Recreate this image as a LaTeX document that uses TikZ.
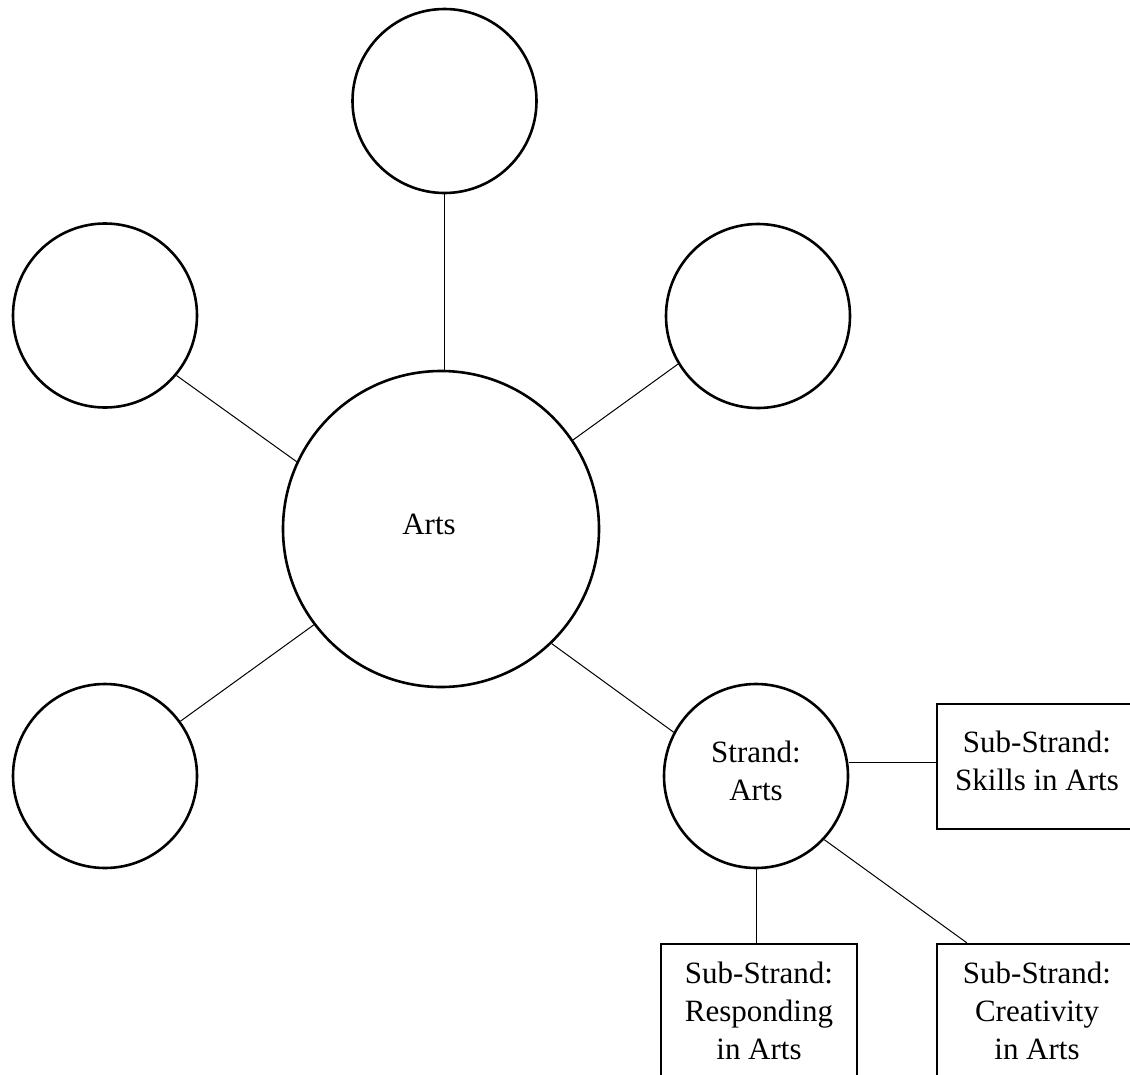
\documentclass[tikz,border=0pt]{standalone}
\usepackage{fontspec}
\setmainfont{Liberation Serif}
\begin{document}
\begin{tikzpicture}[x=1pt,y=-1pt,
  bubble/.style={draw=black, line width=2.6pt, circle, inner sep=0pt, font=\fontsize{31}{38}\selectfont, align=center},
  subbox/.style={draw=black, line width=2.5pt, rectangle, inner sep=0pt, font=\fontsize{31}{38}\selectfont, align=center},
  conn/.style={draw=black, line width=1pt}]
\clip (0,0) rectangle (1130,1074);
\fill[white] (0,0) rectangle (1130,1074);
% circles
\node[bubble, minimum size=184pt] (top) at (444.5,101) {};
\node[bubble, minimum size=184pt] (left) at (105,315.5) {};
\node[bubble, minimum size=184pt] (right) at (758,316) {};
\node[bubble, minimum size=184pt] (botleft) at (105,776) {};
\node[bubble, minimum size=316pt,
  label={[name=artstext, font=\fontsize{31}{38}\selectfont, xshift=-12pt, yshift=4.5pt]center:Arts}] (central) at (441,529) {};
\node[bubble, minimum size=184pt, text height=60pt, text depth=12pt] (strand) at (756,776) {Strand:\\Arts};
% boxes
\node[subbox, minimum width=200pt, minimum height=125pt, text height=60pt, text depth=13pt] (skills) at (1037,766.5) {Sub-Strand:\\Skills in Arts};
\node[subbox, minimum width=196pt, minimum height=170pt, text height=110pt, text depth=50pt] (responding) at (759,1029) {Sub-Strand:\\Responding\\in Arts};
\node[subbox, minimum width=200pt, minimum height=170pt, text height=110pt, text depth=50pt] (creativity) at (1037,1029) {Sub-Strand:\\Creativity\\in Arts};
% connectors
\draw[conn] (top.south) -- (top.south |- central.north);
\draw[conn] (central.155) -- (left.-40);
\draw[conn] (central.34.3) -- (right.211.5);
\draw[conn] (central.217.4) -- (botleft.36.3);
\draw[conn] (central.-46.5) -- (strand.152);
\draw[conn] ([yshift=4.5pt]skills.west) -- ([yshift=4.5pt]skills.west -| strand.east);
\draw[conn] (strand.south) -- (strand.south |- responding.north);
\draw[conn] (strand.-43.7) -- ([xshift=31pt]creativity.north west);
\end{tikzpicture}
\end{document}
